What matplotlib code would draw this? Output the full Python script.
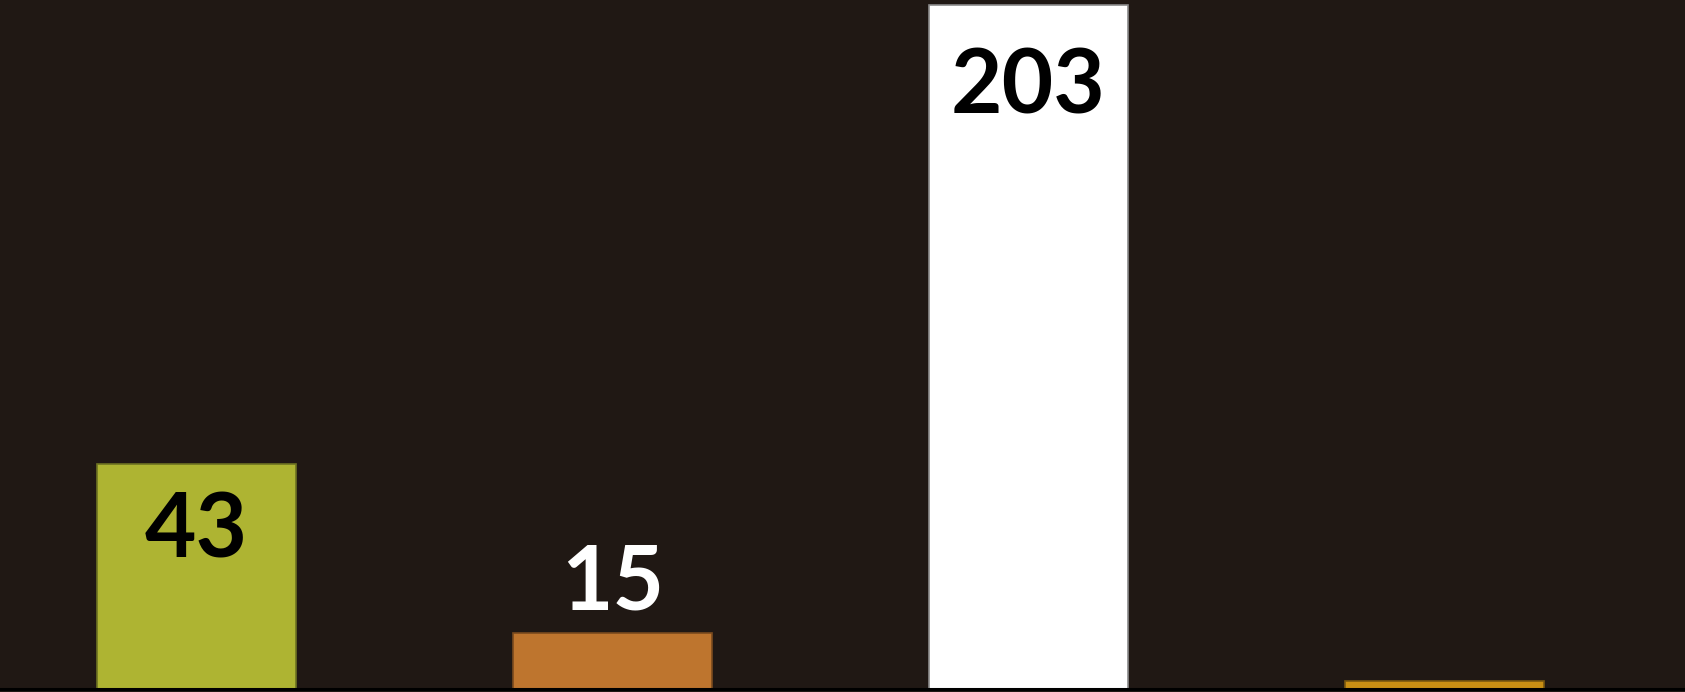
import matplotlib.pyplot as plt

categories = ["A", "B", "C", "D"]
# bar lengths as drawn in the picture (the chart's scale is not proportional to its labels)
bar_heights = [66.8, 16.6, 203, 2.4]
value_labels = ["43", "15", "203", ""]
label_inside = [True, False, True, False]

bar_colors = ["#AEB432", "#BE752E", "#FFFFFF", "#C98F14"]
edge_colors = ["#6E7322", "#7A4A1E", "#8A8A8A", "#7A5810"]
text_colors = ["black", "white", "black", "black"]

bg = "#201814"

fig = plt.figure(figsize=(16.85, 6.92), dpi=100)
fig.patch.set_facecolor(bg)
ax = fig.add_axes([0, 3 / 692, 1, 689 / 692])
ax.set_facecolor(bg)

x = range(len(categories))
bars = ax.bar(x, bar_heights, width=0.48, color=bar_colors,
              edgecolor=edge_colors, linewidth=1.2, zorder=2)

offsets = [-68, 50, -82, 0]
for i, b in enumerate(bars):
    if not value_labels[i]:
        continue
    ax.annotate(value_labels[i], (b.get_x() + b.get_width() / 2, b.get_height()),
                xytext=(0, offsets[i]), textcoords="offset pixels",
                ha="center", va="center", fontsize=64, fontweight="bold",
                family=["Lato", "Open Sans", "DejaVu Sans"], color=text_colors[i])

ax.set_xlim(-0.472, 3.578)
ax.set_ylim(0, 204.5)
ax.set_xticks([])
ax.set_yticks([])
for s in ["top", "left", "right"]:
    ax.spines[s].set_visible(False)
ax.spines["bottom"].set_color("black")
ax.spines["bottom"].set_linewidth(2.2)

fig.savefig("out.png", dpi=100, facecolor=bg)
